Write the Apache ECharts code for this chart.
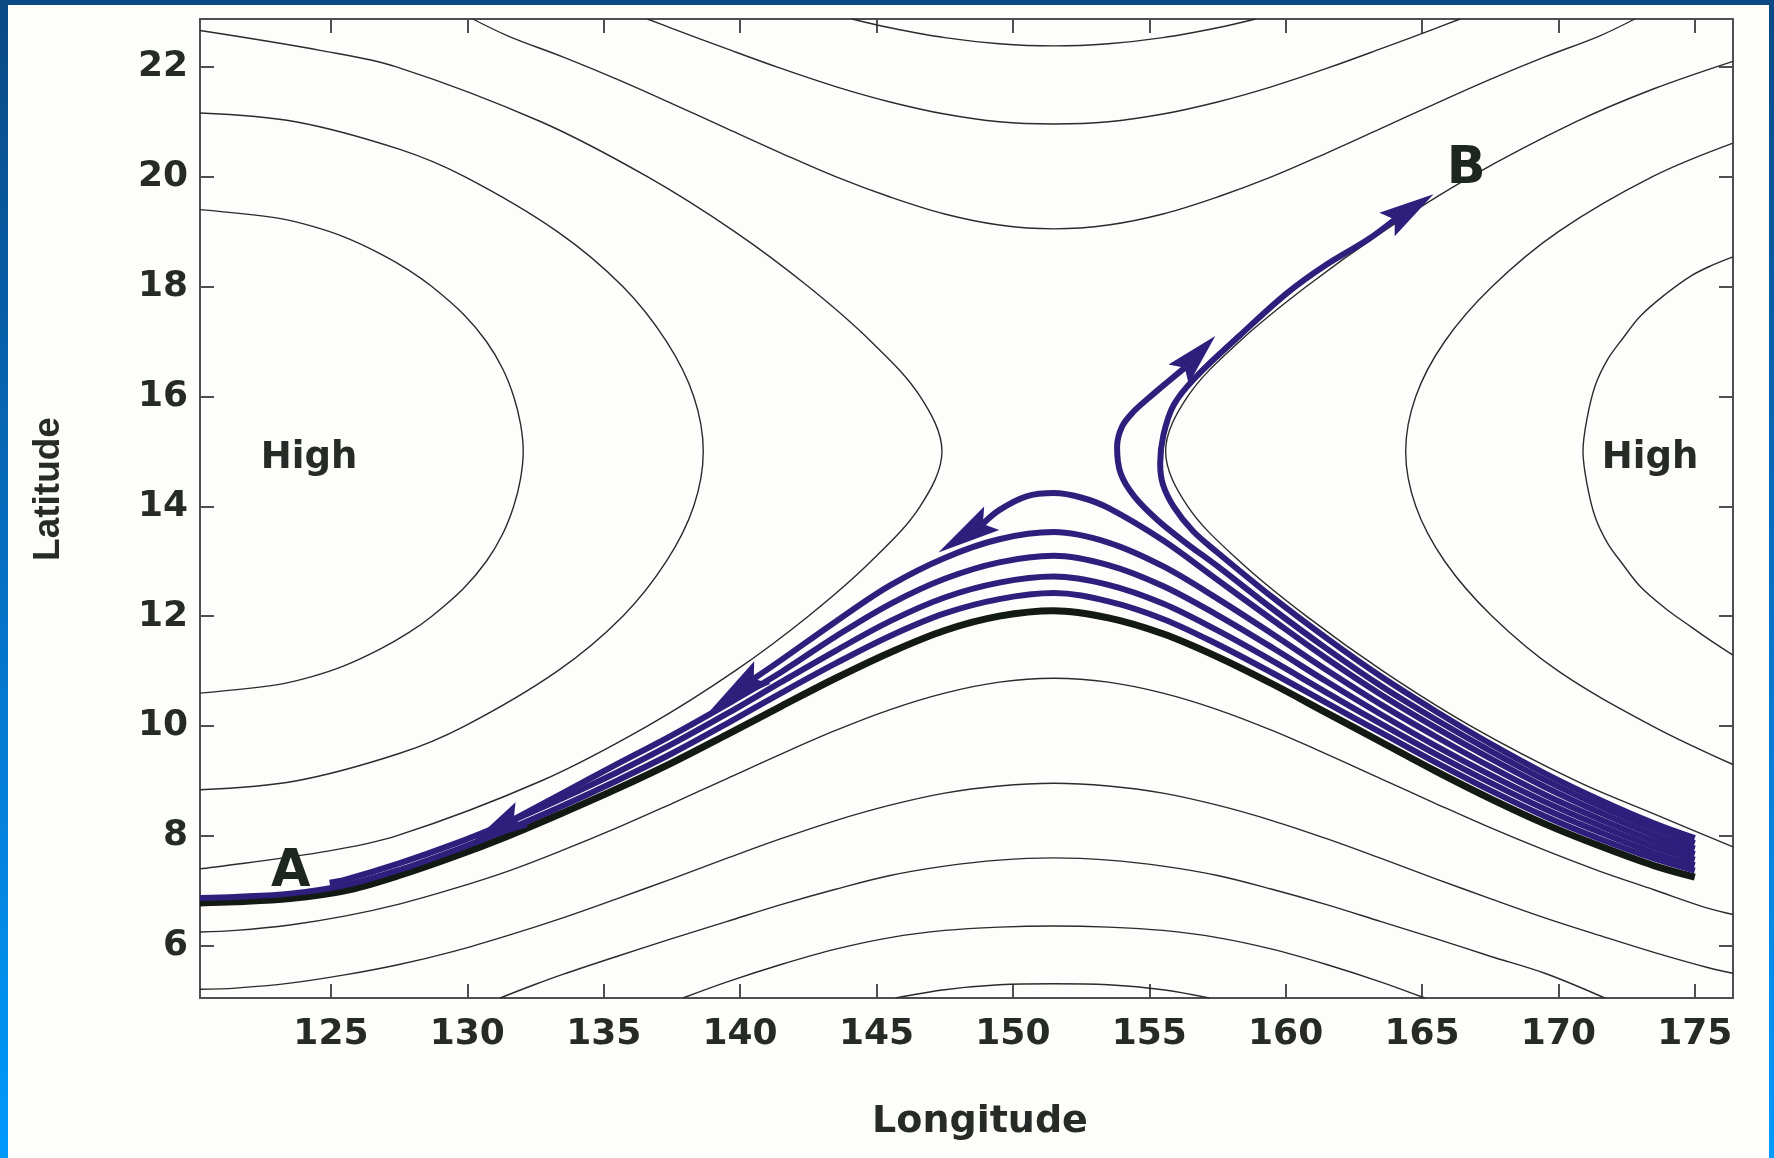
<!DOCTYPE html>
<html>
<head>
<meta charset="utf-8">
<title>Trajectories past a saddle between two Highs</title>
<script src="https://cdn.jsdelivr.net/npm/echarts@6.0.0/dist/echarts.min.js"></script>
<style>
  html, body { margin: 0; padding: 0; }
  #chart { width: 1774px; height: 1158px; }
</style>
</head>
<body>
<div id="chart"></div>
<script>
// axes
var lonRange = [120.2, 176.4];
var latRange = [5.05, 22.87];
var lonTicks = [125, 130, 135, 140, 145, 150, 155, 160, 165, 170, 175];
var latTicks = [6, 8, 10, 12, 14, 16, 18, 20, 22];

// pressure contours, [lon, lat]
var contourWest1 = [[120.2,19.4],[123.0,19.25],[124.3,19.1],[125.5,18.9],[126.8,18.6],[127.85,18.3],[128.7,18.0],[129.85,17.5],[130.7,17.0],[131.3,16.5],[131.7,16.0],[131.95,15.5],[132.05,15.0],[131.95,14.5],[131.7,14.0],[131.3,13.5],[130.7,13.0],[129.85,12.5],[128.7,12.0],[127.85,11.7],[126.8,11.4],[125.5,11.1],[124.3,10.9],[123.0,10.75],[120.2,10.6]];
var contourWest2 = [[120.2,21.16],[123.7,21.0],[127.5,20.5],[129.9,20.0],[133.3,19.0],[135.7,18.0],[137.3,17.0],[138.3,16.0],[138.65,15.0],[138.3,14.0],[137.3,13.0],[135.7,12.0],[133.3,11.0],[129.9,10.0],[127.5,9.5],[123.7,9.0],[120.2,8.84]];
var contourWest3 = [[120.2,22.66],[124.6,22.3],[127.4,22.0],[132.7,21.0],[136.6,20.0],[139.8,19.0],[142.5,18.0],[144.8,17.0],[146.6,16.0],[147.4,15.0],[146.6,14.0],[144.8,13.0],[142.5,12.0],[139.8,11.0],[136.6,10.0],[132.7,9.0],[127.4,8.0],[124.6,7.7],[120.2,7.4]];
var contourEast1 = [[176.4,18.54],[175.6,18.38],[174.85,18.19],[173.9,17.85],[173.0,17.46],[172.35,17.05],[171.8,16.67],[171.35,16.2],[171.05,15.6],[170.9,15.0],[171.05,14.4],[171.35,13.8],[171.8,13.33],[172.35,12.95],[173.0,12.54],[173.9,12.15],[174.85,11.81],[175.6,11.55],[176.4,11.29]];
var contourEast2 = [[176.4,20.61],[173.45,20.0],[170.0,19.0],[167.57,18.0],[165.83,17.0],[164.77,16.0],[164.4,15.0],[164.77,14.0],[165.83,13.0],[167.57,12.0],[170.0,11.0],[173.45,10.0],[176.4,9.3]];
var contourEast3 = [[176.4,22.1],[173.5,21.6],[170.65,21.0],[166.79,20.0],[163.57,19.0],[160.76,18.0],[158.31,17.0],[156.41,16.0],[155.6,15.0],[156.41,14.0],[158.31,13.0],[160.76,12.0],[163.57,11.0],[166.79,10.0],[170.65,9.0],[173.5,8.4],[176.4,7.8]];
var contourNorth1 = [[130.2,22.87],[131.5,22.56],[133.5,22.18],[135.5,21.77],[137.5,21.33],[139.5,20.88],[141.5,20.43],[143.5,20.0],[145.5,19.63],[147.5,19.32],[149.5,19.12],[151.5,19.05],[153.5,19.12],[155.5,19.32],[157.5,19.63],[159.5,20.0],[161.5,20.43],[163.5,20.88],[165.5,21.33],[167.5,21.77],[169.5,22.18],[171.5,22.56],[172.8,22.87]];
var contourNorth2 = [[136.6,22.87],[137.5,22.7],[139.5,22.33],[141.5,21.97],[143.5,21.64],[145.5,21.36],[147.5,21.14],[149.5,21.0],[151.5,20.96],[153.5,21.0],[155.5,21.14],[157.5,21.36],[159.5,21.64],[161.5,21.97],[163.5,22.33],[165.5,22.7],[166.4,22.87]];
var contourNorth3 = [[144.1,22.87],[145.5,22.71],[147.5,22.53],[149.5,22.42],[151.5,22.38],[153.5,22.42],[155.5,22.53],[157.5,22.71],[158.9,22.87]];
var contourSouth1 = [[120.2,6.25],[121.5,6.28],[123.5,6.38],[125.5,6.54],[127.5,6.76],[129.5,7.04],[131.5,7.36],[133.5,7.74],[135.5,8.15],[137.5,8.59],[139.5,9.04],[141.5,9.49],[143.5,9.92],[145.5,10.3],[147.5,10.6],[149.5,10.8],[151.5,10.87],[153.5,10.8],[155.5,10.6],[157.5,10.3],[159.5,9.92],[161.5,9.49],[163.5,9.04],[165.5,8.59],[167.5,8.15],[169.5,7.74],[171.5,7.36],[173.5,7.02],[175.5,6.68],[176.4,6.57]];
var contourSouth2 = [[120.2,5.21],[121.5,5.23],[123.5,5.32],[125.5,5.47],[127.5,5.66],[129.5,5.9],[131.5,6.19],[133.5,6.51],[135.5,6.86],[137.5,7.22],[139.5,7.59],[141.5,7.95],[143.5,8.28],[145.5,8.56],[147.5,8.78],[149.5,8.91],[151.5,8.96],[153.5,8.91],[155.5,8.78],[157.5,8.56],[159.5,8.28],[161.5,7.95],[163.5,7.59],[165.5,7.22],[167.5,6.86],[169.5,6.51],[171.5,6.19],[173.5,5.88],[175.5,5.6],[176.4,5.5]];
var contourSouth3 = [[131.2,5.05],[132.5,5.3],[133.5,5.48],[135.5,5.81],[137.5,6.13],[139.5,6.44],[141.5,6.75],[143.5,7.03],[145.5,7.28],[147.5,7.45],[149.5,7.56],[151.5,7.6],[153.5,7.56],[155.5,7.45],[157.5,7.28],[159.5,7.03],[161.5,6.75],[163.5,6.44],[165.5,6.13],[167.5,5.81],[169.5,5.5],[171.7,5.05]];
var contourSouth4 = [[137.9,5.05],[139.5,5.34],[141.5,5.66],[143.5,5.94],[145.5,6.15],[147.5,6.28],[149.5,6.34],[151.5,6.36],[153.5,6.34],[155.5,6.28],[157.5,6.15],[159.5,5.94],[161.5,5.66],[163.5,5.34],[165.1,5.05]];
var contourSouth5 = [[145.7,5.05],[147.5,5.2],[149.5,5.29],[151.5,5.31],[153.5,5.29],[155.5,5.2],[157.2,5.05]];

// trajectories, [lon, lat]
var trackBase = [[175,7.25],[173.5,7.46],[171.5,7.82],[169.5,8.22],[167.5,8.68],[165.5,9.18],[163.5,9.71],[161.5,10.24],[159.5,10.77],[157.5,11.26],[155.5,11.68],[153.5,11.97],[151.5,12.1],[149.5,12.0],[147.5,11.74],[145.5,11.34],[143.5,10.87],[141.5,10.36],[139.5,9.84],[137.5,9.33],[135.5,8.86],[133.5,8.42],[131.5,8.0],[129.5,7.62],[127.5,7.28],[125.5,7.0],[123.5,6.86],[121.5,6.8],[120.2,6.78]];
var track5 = [[175,7.37],[173.5,7.59],[171.5,7.95],[169.5,8.36],[167.5,8.83],[165.5,9.34],[163.5,9.88],[161.5,10.42],[159.5,10.97],[157.5,11.49],[155.5,11.95],[153.5,12.27],[151.5,12.42],[149.5,12.31],[147.5,12.05],[145.5,11.64],[143.5,11.14],[141.5,10.6],[139.5,10.04],[137.5,9.5],[135.5,9.01],[133.5,8.55],[131.5,8.12],[129.5,7.73],[127.5,7.38],[125.5,7.1],[123.5,6.95],[121.5,6.89],[120.2,6.87]];
var track4 = [[175,7.47],[173.5,7.69],[171.5,8.07],[169.5,8.49],[167.5,8.97],[165.5,9.49],[163.5,10.04],[161.5,10.61],[159.5,11.19],[157.5,11.74],[155.5,12.23],[153.5,12.57],[151.5,12.72],[149.5,12.61],[147.5,12.34],[145.5,11.91],[143.5,11.37],[141.5,10.8],[139.5,10.22],[137.5,9.67],[135.5,9.16],[133.5,8.69],[131.5,8.25],[129.5,7.85],[127.5,7.5],[125.5,7.2],[124.95,7.15]];
var track3 = [[175,7.57],[173.5,7.8],[171.5,8.19],[169.5,8.62],[167.5,9.11],[165.5,9.64],[163.5,10.21],[161.5,10.81],[159.5,11.43],[157.5,12.02],[155.5,12.55],[153.5,12.93],[151.5,13.1],[149.5,12.98],[147.5,12.68],[145.5,12.22],[143.5,11.63],[141.5,10.98],[139.5,10.39],[137.5,9.83],[135.5,9.31],[133.5,8.78],[131.7,8.3]];
var track2 = [[175,7.67],[173.5,7.91],[171.5,8.31],[169.5,8.75],[167.5,9.26],[165.5,9.81],[163.5,10.39],[161.5,11.02],[159.5,11.68],[157.5,12.32],[155.5,12.91],[153.5,13.34],[151.5,13.53],[149.5,13.4],[147.5,13.06],[145.5,12.56],[143.5,11.9],[141.5,11.2],[140.5,10.86]];
var track1 = [[175,7.77],[173.5,8.02],[171.5,8.43],[169.5,8.89],[167.5,9.41],[165.5,9.97],[163.5,10.57],[161.5,11.23],[159.5,11.94],[157.5,12.66],[155.5,13.38],[153.5,13.97],[152.5,14.16],[151.5,14.24],[150.5,14.18],[149.5,13.93],[148.9,13.68]];
var loopInner = [[175,7.87],[173.5,8.13],[171.5,8.55],[169.5,9.02],[167.5,9.55],[165.5,10.12],[163.5,10.73],[161.5,11.41],[159.5,12.14],[157.5,12.91],[156.3,13.35],[155.3,13.75],[154.45,14.18],[153.95,14.6],[153.82,15.08],[154.0,15.45],[154.42,15.72],[155.0,15.98],[155.64,16.25],[156.3,16.52]];
var loopOuter = [[175,7.96],[173.5,8.23],[171.5,8.66],[169.5,9.14],[167.5,9.68],[165.5,10.27],[163.5,10.9],[161.5,11.6],[159.5,12.35],[157.5,13.16],[156.6,13.55],[155.9,13.99],[155.5,14.4],[155.4,14.78],[155.52,15.3],[155.9,15.85],[156.7,16.35],[158.3,17.1],[160.05,17.88],[161.5,18.4],[163.0,18.85],[164.0,19.22]];

// arrow heads: [baseLon, baseLat, tipLon, tipLat]
var arrowHeads = [
  [148.9, 13.68, 147.27, 13.16],
  [140.5, 10.86, 138.9, 10.28],
  [131.7, 8.3, 130.1, 7.85],
  [156.3, 16.52, 157.42, 17.1],
  [164.0, 19.22, 165.42, 19.68]
];

// text marks
var highLon = [124.2, 173.36];
var highLat = [14.88, 14.88];
var letterNames = ['A', 'B'];
var letterLon = [123.53, 166.62];
var letterLat = [7.33, 20.12];

var BLUE = '#2e1f7d';
var INK = '#262b27';
var FONT = 'DejaVu Sans';

var contours = [contourWest1, contourWest2, contourWest3, contourEast1, contourEast2, contourEast3,
  contourNorth1, contourNorth2, contourNorth3, contourSouth1, contourSouth2, contourSouth3,
  contourSouth4, contourSouth5];
var blueTracks = [track5, track4, track3, track2, track1, loopInner, loopOuter];

var series = [];
contours.forEach(function (pts) {
  series.push({
    type: 'line', data: pts, smooth: 0.35, symbol: 'none', silent: true, z: 2,
    lineStyle: { color: '#2b2b2b', width: 1.4 }
  });
});
series.push({
  type: 'line', data: trackBase, smooth: 0.35, symbol: 'none', silent: true, z: 3,
  lineStyle: { color: '#121a13', width: 7 }
});
blueTracks.forEach(function (pts) {
  series.push({
    type: 'line', data: pts, smooth: 0.35, symbol: 'none', silent: true, z: 4,
    lineStyle: { color: BLUE, width: 6 }
  });
});
series.push({
  type: 'custom',
  silent: true,
  z: 5,
  encode: { x: [0, 2], y: [1, 3] },
  data: arrowHeads,
  renderItem: function (params, api) {
    var b = api.coord([api.value(0), api.value(1)]);
    var t = api.coord([api.value(2), api.value(3)]);
    var dx = t[0] - b[0], dy = t[1] - b[1];
    var len = Math.sqrt(dx * dx + dy * dy);
    var ux = dx / len, uy = dy / len;
    var nx = -uy, ny = ux;
    var hw = 14, back = len * 0.2;
    return {
      type: 'polygon',
      shape: {
        points: [
          t,
          [b[0] + nx * hw - ux * back, b[1] + ny * hw - uy * back],
          b,
          [b[0] - nx * hw - ux * back, b[1] - ny * hw - uy * back]
        ]
      },
      style: { fill: BLUE }
    };
  }
});
series.push({
  type: 'scatter', silent: true, z: 6,
  symbolSize: 1, itemStyle: { color: 'rgba(0,0,0,0)', opacity: 1 },
  data: highLon.map(function (x, i) { return [x, highLat[i]]; }),
  label: {
    show: true, position: 'inside', formatter: 'High', opacity: 1,
    color: INK, fontFamily: FONT, fontWeight: 'bold', fontSize: 37
  }
});
series.push({
  type: 'scatter', silent: true, z: 6,
  symbolSize: 1, itemStyle: { color: 'rgba(0,0,0,0)', opacity: 1 },
  data: letterLon.map(function (x, i) { return { value: [x, letterLat[i]], name: letterNames[i] }; }),
  label: {
    show: true, position: 'inside', formatter: '{b}', opacity: 1,
    color: '#1d261f', fontFamily: FONT, fontWeight: 'bold', fontSize: 51
  }
});

var axisLineStyle = { color: '#4f4f4f', width: 2 };
var tickLabelStyle = { color: INK, fontFamily: FONT, fontWeight: 'bold', fontSize: 36 };

var chart = echarts.init(document.getElementById('chart'));
chart.setOption({
  animation: false,
  backgroundColor: new echarts.graphic.LinearGradient(0, 0, 0, 1, [
    { offset: 0, color: '#0a4984' },
    { offset: 0.5, color: '#0670c4' },
    { offset: 1, color: '#019afd' }
  ]),
  graphic: {
    elements: [{
      type: 'rect', z: -10, silent: true,
      shape: { x: 8, y: 5, width: 1761, height: 1153 },
      style: { fill: '#fdfdfb' }
    }]
  },
  grid: { left: 200, right: 41, top: 19, bottom: 160, outerBoundsMode: 'none' },
  xAxis: [{
    type: 'value', min: lonRange[0], max: lonRange[1], position: 'bottom',
    axisLine: { show: true, onZero: false, lineStyle: axisLineStyle },
    axisTick: { show: true, inside: true, length: 14, customValues: lonTicks, lineStyle: axisLineStyle },
    axisLabel: Object.assign({ customValues: lonTicks, margin: 19 }, tickLabelStyle),
    splitLine: { show: false },
    name: 'Longitude', nameLocation: 'middle', nameGap: 105,
    nameTextStyle: { color: INK, fontFamily: FONT, fontWeight: 'bold', fontSize: 38, padding: [0, 0, 0, 27] }
  }, {
    type: 'value', min: lonRange[0], max: lonRange[1], position: 'top',
    axisLine: { show: true, onZero: false, lineStyle: axisLineStyle },
    axisTick: { show: true, inside: true, length: 14, customValues: lonTicks, lineStyle: axisLineStyle },
    axisLabel: { show: false },
    splitLine: { show: false }
  }],
  yAxis: [{
    type: 'value', min: latRange[0], max: latRange[1], position: 'left',
    axisLine: { show: true, onZero: false, lineStyle: axisLineStyle },
    axisTick: { show: true, inside: true, length: 14, customValues: latTicks, lineStyle: axisLineStyle },
    axisLabel: Object.assign({ customValues: latTicks, margin: 12 }, tickLabelStyle),
    splitLine: { show: false },
    name: 'Latitude', nameLocation: 'middle', nameGap: 133, nameRotate: 90,
    nameTextStyle: { color: INK, fontFamily: 'Liberation Sans', fontWeight: 'bold', fontSize: 37, padding: [0, 0, 0, 39] }
  }, {
    type: 'value', min: latRange[0], max: latRange[1], position: 'right',
    axisLine: { show: true, onZero: false, lineStyle: axisLineStyle },
    axisTick: { show: true, inside: true, length: 14, customValues: latTicks, lineStyle: axisLineStyle },
    axisLabel: { show: false },
    splitLine: { show: false }
  }],
  series: series
});
</script>
</body>
</html>
